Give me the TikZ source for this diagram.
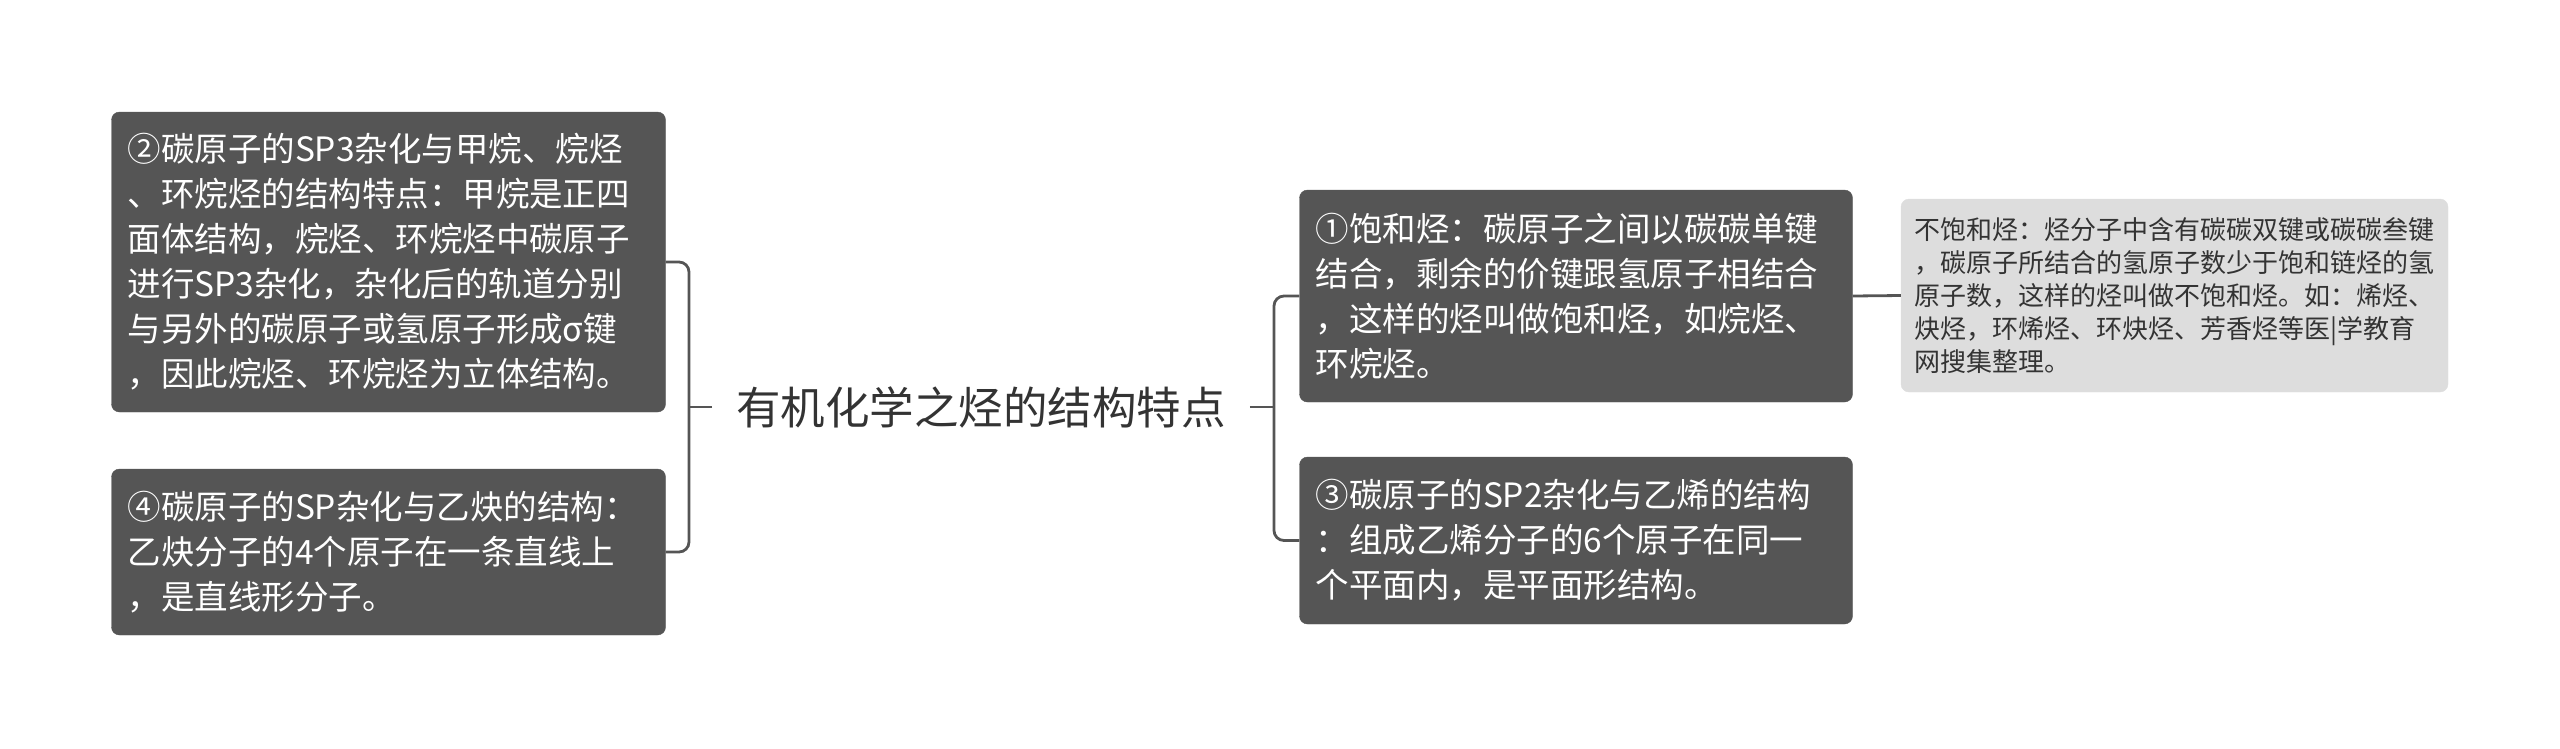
\documentclass[tikz,border=0pt]{standalone}
\usepackage{fontspec}
\newfontfamily\cjk{Noto Sans CJK SC}
\definecolor{boxdark}{HTML}{555555}
\definecolor{boxlight}{HTML}{DDDDDD}
\definecolor{linegray}{HTML}{555555}
\definecolor{titlegray}{HTML}{333333}
\begin{document}
\begin{tikzpicture}[x=1pt,y=-1pt,
  dbox/.style={draw=boxdark, fill=boxdark, rounded corners=8pt, text=white, align=left,
    font=\cjk\fontsize{33.5}{45}\selectfont, inner xsep=16pt, inner ysep=0pt},
  lbox/.style={draw=boxlight, fill=boxlight, rounded corners=8pt, text=titlegray, align=left,
    font=\cjk\fontsize{26}{33}\selectfont, inner xsep=13pt, inner ysep=0pt},
  ttl/.style={text=titlegray, font=\cjk\fontsize{44.5}{50}\selectfont, inner xsep=24pt},
  conn/.style={draw=linegray, line width=2.8pt, rounded corners=10pt}]
\useasboundingbox (0,0) rectangle (2560,748);
\node[ttl] (T) at (981,407) {有机化学之烃的结构特点};
\node[dbox, text width=522pt, minimum width=554pt, minimum height=300pt] (A) at (388.5,262)
 {②碳原子的SP3杂化与甲烷、烷烃\\、环烷烃的结构特点：甲烷是正四\\面体结构，烷烃、环烷烃中碳原子\\进行SP3杂化，杂化后的轨道分别\\与另外的碳原子或氢原子形成σ键\\，因此烷烃、环烷烃为立体结构。};
\node[dbox, text width=522pt, minimum width=554pt, minimum height=166pt] (B) at (388.5,552)
 {④碳原子的SP杂化与乙炔的结构：\\乙炔分子的4个原子在一条直线上\\，是直线形分子。};
\node[dbox, text width=521pt, minimum width=553pt, minimum height=212pt] (C) at (1576,296)
 {①饱和烃：碳原子之间以碳碳单键\\结合，剩余的价键跟氢原子相结合\\，这样的烃叫做饱和烃，如烷烃、\\环烷烃。};
\node[dbox, text width=521pt, minimum width=553pt, minimum height=167pt] (D) at (1576,540.5)
 {③碳原子的SP2杂化与乙烯的结构\\：组成乙烯分子的6个原子在同一\\个平面内，是平面形结构。};
\node[lbox, text width=521pt, minimum width=547pt, minimum height=193pt] (E) at (2174.5,295.5)
 {不饱和烃：烃分子中含有碳碳双键或碳碳叁键\\，碳原子所结合的氢原子数少于饱和链烃的氢\\原子数，这样的烃叫做不饱和烃。如：烯烃、\\炔烃，环烯烃、环炔烃、芳香烃等医|学教育\\网搜集整理。};
\coordinate (LB) at (689,407);
\coordinate (RB) at (1274,407);
\draw[conn] (A.east) -- (LB |- A.east) -- (LB |- B.east) -- (B.east);
\draw[conn] (T.west) -- (LB);
\draw[conn] (C.west) -- (RB |- C.west) -- (RB |- D.west) -- (D.west);
\draw[conn] (T.east) -- (RB);
\draw[conn] (C.east) -- (E.west);
\end{tikzpicture}
\end{document}
